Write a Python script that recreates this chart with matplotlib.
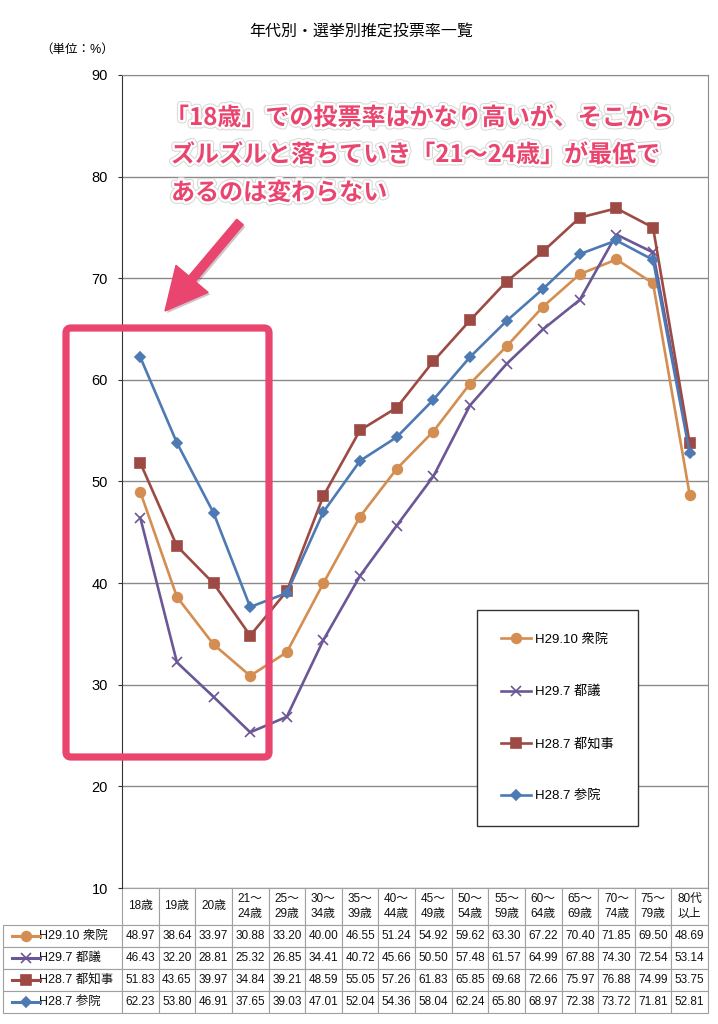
import numpy as np
import matplotlib
matplotlib.use("Agg")
import matplotlib.pyplot as plt
import matplotlib.patheffects as pe
from matplotlib.patches import FancyArrow, FancyBboxPatch

plt.rcParams['font.family'] = ['Liberation Sans', 'Noto Sans CJK JP', 'DejaVu Sans']

# data
ages = ['18歳', '19歳', '20歳', '21～\n24歳', '25～\n29歳', '30～\n34歳', '35～\n39歳',
        '40～\n44歳', '45～\n49歳', '50～\n54歳', '55～\n59歳', '60～\n64歳',
        '65～\n69歳', '70～\n74歳', '75～\n79歳', '80代\n以上']
names = ['H29.10 衆院', 'H29.7 都議', 'H28.7 都知事', 'H28.7 参院']
shugiin = [48.97, 38.64, 33.97, 30.88, 33.20, 40.00, 46.55, 51.24, 54.92, 59.62,
           63.30, 67.22, 70.40, 71.85, 69.50, 48.69]
togi = [46.43, 32.20, 28.81, 25.32, 26.85, 34.41, 40.72, 45.66, 50.50, 57.48,
        61.57, 64.99, 67.88, 74.30, 72.54, 53.14]
tochiji = [51.83, 43.65, 39.97, 34.84, 39.21, 48.59, 55.05, 57.26, 61.83, 65.85,
           69.68, 72.66, 75.97, 76.88, 74.99, 53.75]
sangiin = [62.23, 53.80, 46.91, 37.65, 39.03, 47.01, 52.04, 54.36, 58.04, 62.24,
           65.80, 68.97, 72.38, 73.72, 71.81, 52.81]
series = [shugiin, togi, tochiji, sangiin]
colors = ['#D48E52', '#6B5796', '#9E4A44', '#4E7AB3']
markers = ['o', 'x', 's', 'D']
msizes = [7, 7, 7, 5.5]

W, H = 718, 1024
fig = plt.figure(figsize=(W / 100, H / 100), dpi=100)
L, R, T, B = 122, 708, 75, 888
AW, AH = R - L, B - T
ax = fig.add_axes([L / W, 1 - B / H, AW / W, AH / H])

x = np.arange(len(ages))
for s, nm, c, m, ms in zip(series, names, colors, markers, msizes):
    ax.plot(x, s, color=c, lw=1.9, marker=m, ms=ms, mew=1.2, label=nm, zorder=3)

ax.set_xlim(-0.5, len(ages) - 0.5)
ax.set_ylim(10, 90)
ax.set_yticks(range(10, 91, 10))
ax.set_xticks([])
ax.tick_params(axis='y', length=3, pad=7, labelsize=10.5, color='#333333')
ax.grid(axis='y', color='#8a8a8a', lw=1)
ax.set_axisbelow(True)
for sp in ['top', 'right']:
    ax.spines[sp].set_color('#8a8a8a')
ax.spines['left'].set_color('#333333')
ax.spines['bottom'].set_visible(False)

leg = ax.legend(loc='upper left', bbox_to_anchor=((477 - L) / AW, (B - 610) / AH),
                borderaxespad=0, fontsize=9.5, labelspacing=3.0, borderpad=1.8,
                handlelength=2.3, handletextpad=0.3, fancybox=False, framealpha=1,
                edgecolor='#333333')
leg.get_frame().set_linewidth(1)

# table below the axes
cell_text = [[f'{v:.2f}' for v in s] for s in series]
head_h, row_h, lab_w = 37, 22, 114
tb = ax.table(cellText=cell_text, rowLabels=names, colLabels=ages, cellLoc='center',
              rowLoc='left', loc='bottom')
tb.auto_set_font_size(False)
tb.set_fontsize(8.5)
for (r, c), cell in tb.get_celld().items():
    cell.set_edgecolor('#a0a0a0')
    cell.set_linewidth(0.8)
    cell.set_height((head_h if r == 0 else row_h) / AH)
    cell.set_width(lab_w / AW if c == -1 else 1 / len(ages))
    cell.get_text().set_color('#111111')
    if c == -1:
        cell.PAD = 0.3
        cell.get_text().set_fontsize(9)
    if r == 0:
        cell.get_text().set_linespacing(1.3)
        cell.get_text().set_fontsize(8.5)

# legend keys in the row-label cells
for i, (c, m, ms) in enumerate(zip(colors, markers, msizes)):
    ya = -(head_h + row_h * i + row_h / 2) / AH
    xa = [(12 - L) / AW, (40 - L) / AW]
    ax.plot(xa, [ya, ya], color=c, lw=2.2, clip_on=False, transform=ax.transAxes, zorder=5)
    ax.plot([np.mean(xa)], [ya], color=c, marker=m, ms=ms, mew=1.2, clip_on=False,
            transform=ax.transAxes, zorder=5)

# titles
fig.text(361 / W, 1 - 31 / H, '年代別・選挙別推定投票率一覧', ha='center', va='center', fontsize=11.5)
fig.text(40 / W, 1 - 50 / H, '（単位：%）', ha='left', va='center', fontsize=9)

# pink annotation
pink = '#E9456F'
fx = [pe.Stroke(linewidth=5, foreground='#d8d8d8'), pe.Stroke(linewidth=3.5, foreground='white'),
      pe.Normal()]
lines = ['「18歳」での投票率はかなり高いが、そこから',
         'ズルズルと落ちていき「21～24歳」が最低で',
         'あるのは変わらない']
xs = [165, 171, 171]
ys = [118, 155, 193]
for t, lx, ly in zip(lines, xs, ys):
    fig.text(lx / W, 1 - ly / H, t, ha='left', va='center', fontsize=17.3, fontweight='bold',
             color=pink, family=['Noto Sans CJK JP'], path_effects=fx, zorder=10)

tr = fig.dpi_scale_trans
box = FancyBboxPatch((66 / 100, (H - 757) / 100), (269 - 66) / 100, (757 - 328) / 100,
                     boxstyle='round,pad=0,rounding_size=0.05', fill=False, ec=pink,
                     lw=5.2, transform=tr, zorder=10)
fig.add_artist(box)
x0, y0, x1, y1 = 240, 222, 165, 311
arr = FancyArrow(x0 / 100, (H - y0) / 100, (x1 - x0) / 100, -(y1 - y0) / 100, width=0.085,
                 head_width=0.42, head_length=0.42, length_includes_head=True, color=pink,
                 transform=tr, zorder=10,
                 path_effects=[pe.SimplePatchShadow(offset=(1.5, -1.5), alpha=0.25), pe.Normal()])
fig.add_artist(arr)

fig.savefig('out.png', dpi=100)
